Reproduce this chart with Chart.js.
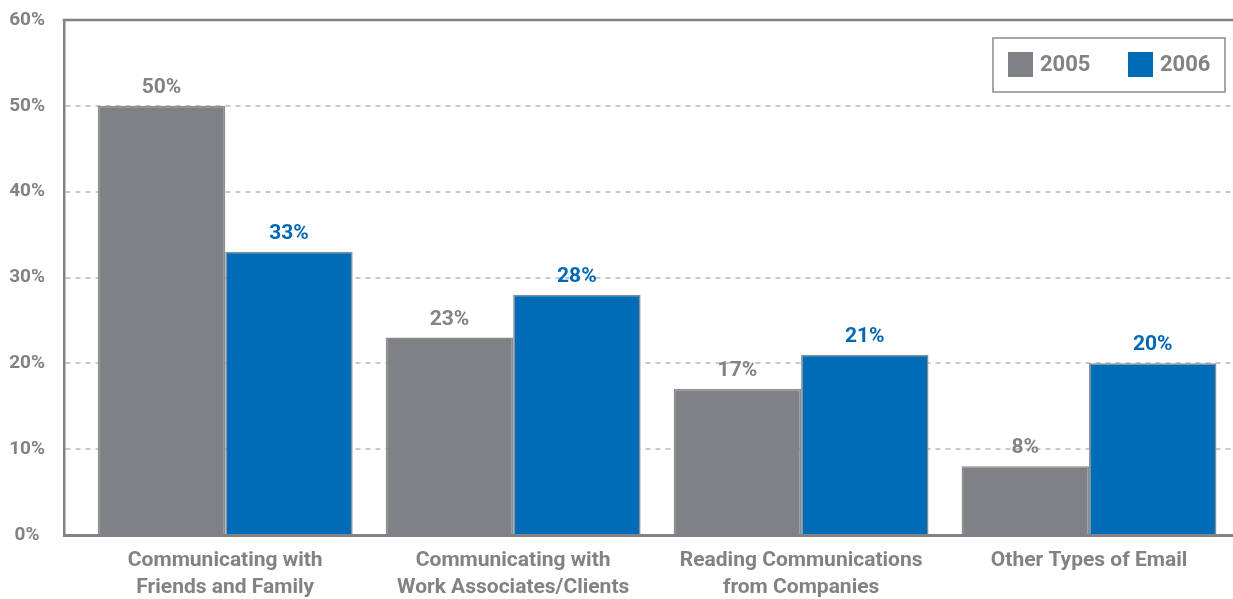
<!DOCTYPE html>
<html>
<head>
<meta charset="utf-8">
<script src="https://cdn.jsdelivr.net/npm/chart.js@4/dist/chart.umd.min.js"></script>
<style>
  html, body { margin: 0; padding: 0; background: #ffffff; }
  #wrap { width: 1233px; height: 599px; }
</style>
</head>
<body>
<div id="wrap"><canvas id="c" width="1233" height="599"></canvas></div>
<script>
// Email usage by purpose, 2005 vs 2006
const categories = [
  ['Communicating with', 'Friends and Family'],
  ['Communicating with', 'Work Associates/Clients'],
  ['Reading Communications', 'from Companies'],
  ['Other Types of Email']
];
const seriesNames = ['2005', '2006'];
const values2005 = [50, 23, 17, 8];
const values2006 = [33, 28, 21, 20];
const yTicks = [0, 10, 20, 30, 40, 50, 60];

const GRAY = '#808184';
const BLUE = '#006bb6';
const TEXT_GRAY = '#808285';
const FRAME = '#808285';
const FONT = "'Roboto', 'Liberation Sans', sans-serif";

const toPoints = arr => arr.map((v, i) => ({ x: i, y: v }));

// Solid frame line along the top of the plot area
const topFrame = {
  id: 'topFrame',
  beforeDatasetsDraw(chart) {
    const { ctx, chartArea } = chart;
    ctx.save();
    ctx.strokeStyle = FRAME;
    ctx.lineWidth = 2.5;
    ctx.beginPath();
    ctx.moveTo(chartArea.left - 1.25, chartArea.top);
    ctx.lineTo(chartArea.right, chartArea.top);
    ctx.stroke();
    ctx.restore();
  }
};

// Value labels above each bar
const valueLabels = {
  id: 'valueLabels',
  afterDatasetsDraw(chart) {
    const ctx = chart.ctx;
    ctx.save();
    ctx.font = `bold 21px ${FONT}`;
    ctx.textAlign = 'center';
    ctx.textBaseline = 'alphabetic';
    chart.data.datasets.forEach((ds, di) => {
      const meta = chart.getDatasetMeta(di);
      ctx.fillStyle = ds.labelColor;
      meta.data.forEach((bar, i) => {
        ctx.fillText(ds.data[i].y + '%', bar.x, bar.y - 13);
      });
    });
    ctx.restore();
  }
};

// Boxed legend inside the top-right of the plot
const boxedLegend = {
  id: 'boxedLegend',
  afterDraw(chart) {
    const { ctx, chartArea } = chart;
    const w = 232, h = 54;
    const x0 = chartArea.right - 8 - w;
    const y0 = chartArea.top + 18;
    ctx.save();
    ctx.fillStyle = '#ffffff';
    ctx.fillRect(x0, y0, w, h);
    ctx.strokeStyle = '#8a8b8d';
    ctx.lineWidth = 1.5;
    ctx.strokeRect(x0, y0, w, h);
    ctx.font = `bold 22px ${FONT}`;
    ctx.textBaseline = 'middle';
    ctx.textAlign = 'left';
    chart.data.datasets.forEach((ds, i) => {
      const sx = x0 + 15 + i * 120;
      const sy = y0 + 14;
      ctx.fillStyle = ds.backgroundColor;
      ctx.fillRect(sx, sy, 25, 25);
      ctx.fillStyle = TEXT_GRAY;
      ctx.fillText(ds.label, sx + 32, sy + 13.5);
    });
    ctx.restore();
  }
};

new Chart(document.getElementById('c'), {
  type: 'bar',
  data: {
    datasets: [
      {
        label: seriesNames[0],
        data: toPoints(values2005),
        backgroundColor: GRAY,
        borderColor: '#8a8b8d',
        borderWidth: 1.5,
        labelColor: TEXT_GRAY
      },
      {
        label: seriesNames[1],
        data: toPoints(values2006),
        backgroundColor: BLUE,
        borderColor: '#8a8b8d',
        borderWidth: 1.5,
        labelColor: '#0068b3'
      }
    ]
  },
  options: {
    responsive: false,
    animation: false,
    devicePixelRatio: 1,
    layout: { padding: { top: 20, left: 0, right: 0, bottom: 0 } },
    datasets: {
      bar: { categoryPercentage: 0.885, barPercentage: 1.0 }
    },
    plugins: {
      legend: { display: false },
      tooltip: { enabled: false }
    },
    scales: {
      x: {
        type: 'linear',
        position: 'bottom',
        offset: false,
        min: -0.56,
        max: 3.5,
        afterBuildTicks(scale) {
          scale.ticks = categories.map((_, i) => ({ value: i }));
        },
        afterFit(scale) { scale.height = 64; },
        grid: { display: false, drawTicks: false, offset: false },
        border: { display: true, color: FRAME, width: 3 },
        ticks: {
          padding: 12,
          color: TEXT_GRAY,
          maxRotation: 0,
          autoSkip: false,
          font: { family: FONT, size: 21, weight: 'bold', lineHeight: 1.29 },
          callback: v => categories[v]
        }
      },
      y: {
        min: 0,
        max: 60,
        afterBuildTicks(scale) {
          scale.ticks = yTicks.map(v => ({ value: v }));
        },
        afterFit(scale) {
          scale.width = 64;
          scale.paddingTop = 0;
          scale.paddingBottom = 0;
        },
        grid: {
          drawTicks: false,
          lineWidth: 2,
          color: c => (c.tick && (c.tick.value === 0 || c.tick.value === 60)) ? 'rgba(0,0,0,0)' : '#c9c9c9'
        },
        border: { display: true, color: FRAME, width: 2.5, dash: [5, 5] },
        ticks: {
          padding: 19,
          crossAlign: 'center',
          color: TEXT_GRAY,
          font: { family: FONT, size: 19, weight: 'bold' },
          callback: v => v + '%'
        }
      }
    }
  },
  plugins: [topFrame, valueLabels, boxedLegend]
});
</script>
</body>
</html>
